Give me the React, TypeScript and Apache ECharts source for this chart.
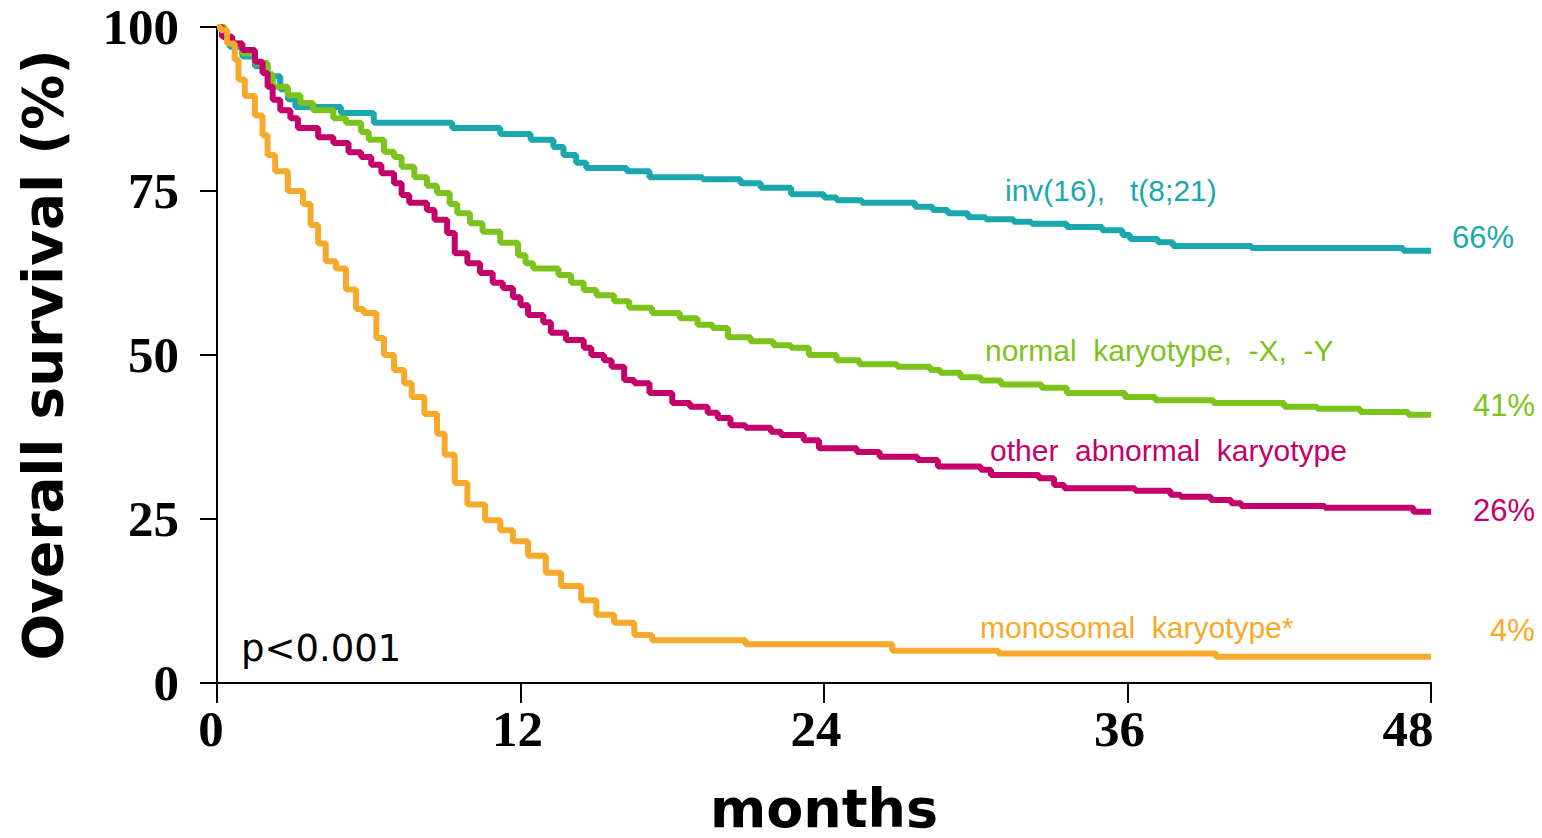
import React, { useEffect, useRef } from "react";
import * as echarts from "echarts";

// Kaplan-Meier step data: [month, survival %]
const invT821: [number, number][] = [
  [0, 100], [0.25, 98.5], [0.5, 97], [1.0, 95.5], [1.5, 94], [2.0, 92.5], [2.5, 90.5], [2.8, 89],
  [3.1, 87.8], [4.9, 86.9], [6.2, 85.4], [9.3, 84.6], [11.2, 83.7], [12.4, 82.8], [13.3, 81.7],
  [13.7, 80.5], [14.2, 79.3], [14.6, 78.5], [16.2, 78], [17.1, 77.1], [19.2, 76.8], [20.7, 76.2],
  [21.5, 75.5], [22.7, 74.5], [24.0, 74], [24.5, 73.6], [25.5, 73.2], [27.6, 72.6], [28.3, 72.1],
  [28.9, 71.6], [29.7, 71], [30.4, 70.7], [31.5, 70.3], [32.2, 70], [33.6, 69.5], [35.0, 69],
  [35.8, 68.3], [36.1, 67.7], [37.2, 67.2], [37.8, 66.6], [40.9, 66.3], [46.9, 65.9], [48, 65.9],
];

const normalKaryotype: [number, number][] = [
  [0, 100], [0.3, 98.5], [0.6, 97.5], [1.0, 96], [1.5, 94.5], [2.0, 92.8], [2.2, 90.9], [2.8, 89.6],
  [3.3, 88.4], [3.8, 87.3], [4.6, 86.1], [5.1, 85.4], [5.7, 84], [6.0, 82.8], [6.6, 81], [7.0, 80.2],
  [7.3, 78.7], [7.8, 77.1], [8.3, 75.8], [8.7, 74.7], [9.2, 73], [9.5, 71.6], [10.0, 70.1],
  [10.5, 68.8], [11.2, 67.1], [11.9, 65.2], [12.2, 64], [12.5, 63.2], [13.5, 62.2], [14.0, 61],
  [14.5, 59.9], [15.0, 59.1], [15.7, 58.2], [16.3, 57.2], [17.2, 56.4], [18.3, 55.6], [19.0, 54.6],
  [19.6, 54.1], [20.2, 52.7], [21.1, 52.1], [22.0, 51.5], [22.7, 51.1], [23.4, 50], [24.5, 49.2],
  [25.4, 48.6], [26.9, 48.2], [28.2, 47.7], [28.6, 47.3], [29.4, 46.6], [30.2, 46.1], [31.0, 45.5],
  [32.6, 45], [33.6, 44.2], [35.9, 43.6], [37.1, 43.1], [39.4, 42.7], [42.2, 42.1], [43.5, 41.8],
  [45.2, 41.3], [47.1, 40.9], [48, 40.9],
];

const otherAbnormal: [number, number][] = [
  [0, 100], [0.2, 98.5], [0.6, 97.5], [1.0, 96.5], [1.5, 94.7], [1.8, 93], [2.0, 90.9], [2.2, 88.9],
  [2.5, 87.3], [2.9, 86.1], [3.2, 84.6], [4.0, 83.2], [4.6, 82.3], [5.2, 80.9], [5.7, 80.2],
  [6.1, 79], [6.5, 77.7], [7.0, 76.2], [7.3, 74.4], [7.6, 73.2], [8.3, 72.1], [8.6, 70.6],
  [9.1, 68.6], [9.4, 65.5], [9.9, 64], [10.4, 62.5], [10.9, 61], [11.3, 60.2], [11.7, 58.8],
  [12.0, 57.6], [12.3, 56.1], [12.9, 55], [13.2, 53.4], [13.8, 52.3], [14.5, 51.1], [14.8, 50],
  [15.3, 49.2], [15.6, 48.2], [16.1, 46.2], [16.5, 45.7], [17.1, 44.2], [18.0, 42.7], [18.7, 42.1],
  [19.4, 41.2], [19.8, 40.4], [20.3, 39.3], [20.9, 38.9], [21.9, 38.3], [22.3, 37.8], [23.2, 37],
  [23.8, 35.8], [25.3, 35.2], [26.2, 34.5], [27.7, 34], [28.5, 33], [30.2, 32.5], [30.6, 31.7],
  [32.5, 31.2], [33.1, 30.2], [33.5, 29.7], [36.3, 29.3], [37.7, 28.7], [38.1, 28.4], [39.3, 27.9],
  [40.1, 27.4], [40.5, 27], [43.8, 26.7], [47.3, 26.1], [48, 26.1],
];

const monosomal: [number, number][] = [
  [0, 100], [0.15, 99.5], [0.4, 97.5], [0.7, 95], [0.85, 92], [1.1, 89.5], [1.5, 86.5], [1.8, 83.5],
  [2.0, 80.5], [2.3, 78], [2.8, 75], [3.4, 73], [3.7, 69.8], [4.0, 67], [4.3, 64.3], [4.7, 63.2],
  [5.1, 60], [5.5, 57], [5.8, 56.4], [6.3, 52.6], [6.6, 50], [7.0, 47.7], [7.4, 45.7], [7.7, 43.6],
  [8.2, 41], [8.7, 38], [9.0, 34.8], [9.4, 30.5], [9.9, 27.2], [10.6, 24.8], [11.2, 23.3],
  [11.7, 21.6], [12.3, 19.4], [13.0, 16.8], [13.6, 14.8], [14.4, 12.6], [15.0, 10.4], [15.7, 9.2],
  [16.5, 7.3], [17.2, 6.5], [20.9, 5.9], [26.7, 4.9], [30.9, 4.5], [39.5, 4.0], [48, 4.0],
];

const xTicks = [0, 12, 24, 36, 48];
const yTicks = [0, 25, 50, 75, 100];

const seriesNames = [
  "inv(16),\u00a0\u00a0 t(8;21)",
  "normal\u00a0 karyotype,\u00a0 -X,\u00a0 -Y",
  "other\u00a0 abnormal\u00a0 karyotype",
  "monosomal\u00a0 karyotype*",
];
const endPercents = ["66%", "41%", "26%", "4%"];
const colors = ["#1BA7AE", "#7CC31B", "#C4006A", "#F6A92A"];
const pValueText = "p<0.001";

export default function App() {
  const ref = useRef<HTMLDivElement>(null);
  useEffect(() => {
    if (!ref.current) return;
    const chart = echarts.init(ref.current, undefined, { renderer: "svg" });
    const datasets = [invT821, normalKaryotype, otherAbnormal, monosomal];
    const xLabelShift: Record<string, number> = { "0": 12, "12": 6, "24": 16, "36": 16, "48": 46 };
    const labelPos = [
      { x: 1005, y: 190 },
      { x: 985, y: 350 },
      { x: 990, y: 450 },
      { x: 980, y: 627 },
    ];
    const pctPos = [
      { x: 1452, y: 237 },
      { x: 1473, y: 405 },
      { x: 1473, y: 510 },
      { x: 1490, y: 630 },
    ];
    const graphics: any[] = [];
    seriesNames.forEach((name, i) => {
      graphics.push({
        type: "text",
        x: labelPos[i].x,
        y: labelPos[i].y,
        style: {
          text: name,
          fill: colors[i],
          font: "30px 'Liberation Sans', Arial, sans-serif",
          verticalAlign: "middle",
        },
      });
      graphics.push({
        type: "text",
        x: pctPos[i].x,
        y: pctPos[i].y,
        style: {
          text: endPercents[i],
          fill: colors[i],
          font: "31px 'Liberation Sans', Arial, sans-serif",
          verticalAlign: "middle",
        },
      });
    });
    graphics.push({
      type: "text",
      x: 241,
      y: 648,
      style: {
        text: pValueText,
        fill: "#000",
        font: "37px 'DejaVu Sans', Verdana, sans-serif",
        verticalAlign: "middle",
      },
    });

    chart.setOption({
      animation: false,
      backgroundColor: "#fff",
      grid: {
        left: 217,
        right: 111,
        top: 27,
        bottom: 155,
        containLabel: false,
        outerBoundsMode: "none",
      },
      xAxis: {
        type: "value",
        min: 0,
        max: 48,
        interval: 12,
        name: "months",
        nameLocation: "middle",
        nameGap: 101,
        nameTextStyle: {
          fontFamily: "DejaVu Sans",
          fontWeight: "bold",
          fontSize: 54,
          lineHeight: 48,
          color: "#000",
        },
        axisLine: { show: true, lineStyle: { color: "#000", width: 2 } },
        axisTick: { show: true, inside: false, length: 20, lineStyle: { color: "#000", width: 2 } },
        splitLine: { show: false },
        axisLabel: {
          margin: 20,
          color: "#000",
          formatter: (v: number) => `{a${xTicks.indexOf(v)}|${v}}`,
          rich: Object.fromEntries(
            xTicks.map((t, i) => [
              `a${i}`,
              {
                fontFamily: "'Liberation Serif', 'Times New Roman', serif",
                fontWeight: "bold",
                fontSize: 51,
                color: "#000",
                padding: [0, xLabelShift[String(t)], 0, 0],
              },
            ])
          ),
        },
      },
      yAxis: {
        type: "value",
        min: 0,
        max: 100,
        interval: 25,
        name: "Overall survival (%)",
        nameLocation: "middle",
        nameGap: 147,
        nameTextStyle: { fontFamily: "DejaVu Sans", fontWeight: "bold", fontSize: 55, color: "#000" },
        axisLine: { show: true, lineStyle: { color: "#000", width: 2 } },
        axisTick: { show: true, inside: false, length: 17, lineStyle: { color: "#000", width: 2 } },
        splitLine: { show: false },
        axisLabel: {
          margin: 38,
          color: "#000",
          fontFamily: "'Liberation Serif', 'Times New Roman', serif",
          fontWeight: "bold",
          fontSize: 51,
          formatter: (v: number) => (yTicks.includes(v) ? String(v) : ""),
        },
      },
      series: datasets.map((d, i) => ({
        type: "line",
        name: seriesNames[i],
        step: "end",
        showSymbol: false,
        symbol: "none",
        data: d,
        lineStyle: { color: colors[i], width: 6 },
        itemStyle: { color: colors[i] },
        z: 2 + i,
      })),
      graphic: graphics,
    });
    return () => chart.dispose();
  }, []);
  return (
    <div
      ref={ref}
      style={{ position: "fixed", left: 0, top: 0, width: 1542, height: 838, background: "#fff" }}
    />
  );
}
